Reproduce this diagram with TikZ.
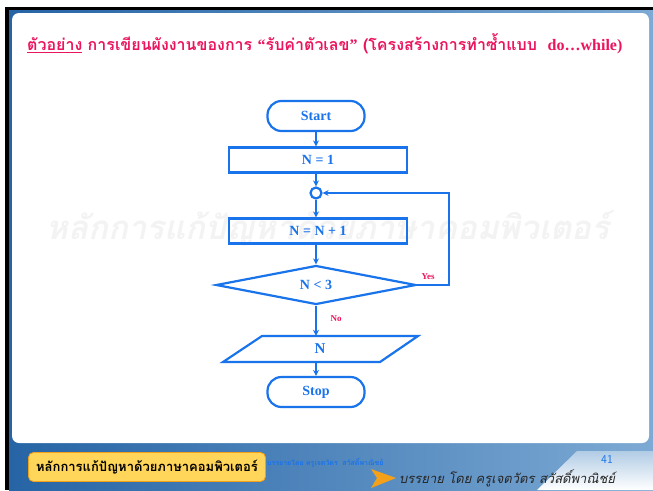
\documentclass[tikz,border=0pt]{standalone}
\usepackage{fontspec}
\setmainfont{Liberation Serif}
\newfontfamily\thaifont[Script=Thai]{Loma}
\usetikzlibrary{shapes.geometric,arrows.meta}
\definecolor{flblue}{RGB}{25,115,235}
\definecolor{titlepink}{RGB}{235,20,95}
\definecolor{bgdark}{RGB}{38,100,165}
\definecolor{bglight}{RGB}{125,170,212}
\definecolor{footyellow}{RGB}{255,214,90}
\definecolor{footorange}{RGB}{245,160,25}
\definecolor{wmark}{RGB}{243,243,243}
\begin{document}
\begin{tikzpicture}[x=1pt,y=-1pt,
  fl/.style={draw=flblue, line width=2.2pt, text=flblue, inner sep=0pt,
     font=\bfseries\fontsize{14}{16}\selectfont},
  term/.style={fl, rectangle, rounded corners=14pt, minimum width=97pt, minimum height=30pt},
  proc/.style={fl, rectangle, minimum width=178pt, minimum height=25pt},
  dec/.style={fl, diamond, aspect=5.1, minimum width=200pt, minimum height=39pt},
  iotext/.style={text=flblue, inner sep=0pt, minimum width=140pt, minimum height=26pt,
     font=\bfseries\fontsize{15}{17}\selectfont},
  conn/.style={draw=flblue, line width=2.2pt, circle, minimum size=11pt, inner sep=0pt},
  arr/.style={draw=flblue, line width=2pt, -{Stealth[length=6pt,width=6pt]}},
  lbl/.style={text=titlepink, font=\bfseries\fontsize{9}{11}\selectfont, inner sep=0pt}
]
\useasboundingbox (0,0) rectangle (653,490);
% frame
\fill[white] (0,0) rectangle (653,490);
\shade[left color=bgdark, right color=bglight] (9,10) rectangle (653,490);
\fill[black] (5,7) rectangle (653,10);
\fill[black] (5,7) rectangle (9,490);
\fill[white, rounded corners=7pt] (12,13) rectangle (649,443);
\shade[top color=bglight!60!white, bottom color=white] (577,451) -- (653,451) -- (653,490) -- (537,490) -- cycle;
% watermark
\node[text=wmark, inner sep=0pt] (wm) at (328,228)
  {\thaifont\bfseries\itshape\fontsize{33}{36}\selectfont หลักการแก้ปัญหาด้วยภาษาคอมพิวเตอร์};
% title
\node[anchor=west, text=titlepink, inner sep=0pt] (title) at (27,44)
  {\thaifont\bfseries\fontsize{16}{19}\selectfont \underline{ตัวอย่าง} การเขียนผังงานของการ {\rmfamily“}รับค่าตัวเลข{\rmfamily”} (โครงสร้างการทำซ้ำแบบ\ \ {\rmfamily do…while)}};
% flowchart
\node[term] (start) at (316,116) {Start};
\node[proc] (n1) at (318,160) {N = 1};
\node[conn] (c) at (316,193) {};
\node[proc] (inc) at (318,231) {N = N + 1};
\node[dec] (d) at (316,285) {N {\textless} 3};
\node[iotext] (io) at (320,349) {N};
\draw[fl] (262,336) -- (418,336) -- (380,362) -- (223,362) -- cycle;
\node[term] (stop) at (316,392) {Stop};
\coordinate (loop) at (449,285);
\draw[arr] (start) -- (start |- n1.north);
\draw[arr] (n1.south -| c) -- (c);
\draw[arr] (c) -- (c |- inc.north);
\draw[arr] (inc.south -| d) -- (d);
\draw[arr] (d.east) -- (loop) |- (c);
\draw[arr] (d) -- (d |- io.north);
\draw[arr] (io.south -| stop) -- (stop);
\node[lbl] (yes) at (428,277) {Yes};
\node[lbl] (no) at (336,319) {No};
% footer
\node[fill=footyellow, draw=footorange, line width=0.8pt, rounded corners=5pt, minimum width=237pt, minimum height=29pt, inner sep=0pt,
  font=\thaifont\bfseries\fontsize{13}{15}\selectfont] (foot) at (147,467) {หลักการแก้ปัญหาด้วยภาษาคอมพิวเตอร์};
\node[anchor=west, text=flblue, inner sep=0pt, font=\thaifont\bfseries\fontsize{7}{8}\selectfont] (small) at (267,463) {บรรยายโดย ครูเจตวัตร\ \ สวัสดิ์พาณิชย์};
\node[text=flblue, inner sep=0pt, font=\sffamily\fontsize{12}{14}\selectfont] (page) at (607,459) {41};
\fill[footorange] (371,469) -- (396,478) -- (371,488) -- (377,478) -- cycle;
\node[anchor=west, text=black!85, inner sep=0pt, font=\thaifont\itshape\fontsize{13}{15}\selectfont] (author) at (399,478) {บรรยาย โดย ครูเจตวัตร สวัสดิ์พาณิชย์};
\end{tikzpicture}
\end{document}
